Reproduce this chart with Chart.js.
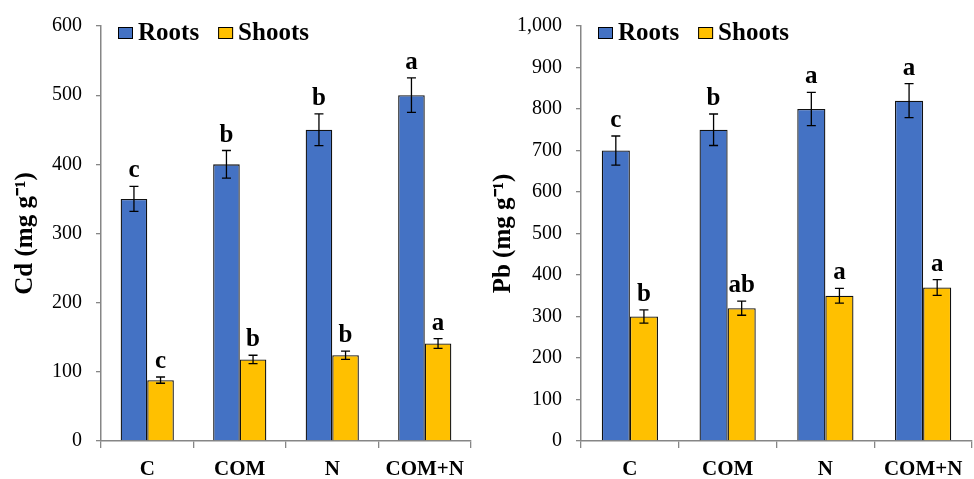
<!DOCTYPE html>
<html>
<head>
<meta charset="utf-8">
<script src="https://cdn.jsdelivr.net/npm/chart.js@4.4.0/dist/chart.umd.min.js"></script>
<style>
  html, body { margin: 0; padding: 0; background: #fff; }
  #wrap { position: relative; width: 974px; height: 479px; }
  .box { position: absolute; top: 0; width: 487px; height: 479px; }
</style>
</head>
<body>
<div id="wrap">
  <div class="box" style="left:0"><canvas id="cdChart"></canvas></div>
  <div class="box" style="left:487px"><canvas id="pbChart"></canvas></div>
</div>
<script>
const categories = ["C", "COM", "N", "COM+N"];

const cdRoots = [350, 400, 450, 500];
const cdRootsErr = [18, 20, 23, 25];
const cdShoots = [88, 118, 124, 141];
const cdShootsErr = [4.5, 6, 6, 7];
const cdRootsLetters = ["c", "b", "b", "a"];
const cdShootsLetters = ["c", "b", "b", "a"];

const pbRoots = [700, 750, 800, 820];
const pbRootsErr = [35, 38, 40, 41];
const pbShoots = [300, 320, 350, 370];
const pbShootsErr = [16, 17, 18, 19];
const pbRootsLetters = ["c", "b", "a", "a"];
const pbShootsLetters = ["b", "ab", "a", "a"];

const FONT = "'Liberation Serif', 'Times New Roman', serif";
const BLUE = "#4472C4";
const GOLD = "#FFC000";
const AXIS = "#868686";

// error bars + significance letters
const errorBarPlugin = {
    id: "errorBars",
    afterDatasetsDraw(chart) {
        const ctx = chart.ctx;
        const yScale = chart.scales.y;
        ctx.save();
        chart.data.datasets.forEach((ds, i) => {
            const meta = chart.getDatasetMeta(i);
            meta.data.forEach((bar, j) => {
                const v = ds.data[j];
                const e = ds.errors[j];
                const yTop = yScale.getPixelForValue(v + e);
                const yBot = yScale.getPixelForValue(v - e);
                const x = bar.x;
                ctx.strokeStyle = "#000";
                ctx.lineWidth = 1.3;
                ctx.beginPath();
                ctx.moveTo(x, yTop); ctx.lineTo(x, yBot);
                ctx.moveTo(x - 4.5, yTop); ctx.lineTo(x + 4.5, yTop);
                ctx.moveTo(x - 4.5, yBot); ctx.lineTo(x + 4.5, yBot);
                ctx.stroke();

                ctx.fillStyle = "#000";
                ctx.font = "bold 25px " + FONT;
                ctx.textAlign = "center";
                ctx.textBaseline = "alphabetic";
                ctx.fillText(ds.letters[j], x, yTop - 9);
            });
        });
        ctx.restore();
    }
};

// legend drawn inside the plot area, top left
const innerLegend = {
    id: "innerLegend",
    afterDraw(chart) {
        const ctx = chart.ctx;
        const area = chart.chartArea;
        let x = area.left + 17;
        const yc = area.top + 7;
        ctx.save();
        ctx.font = "bold 25px " + FONT;
        ctx.textBaseline = "middle";
        ctx.textAlign = "left";
        chart.data.datasets.forEach((ds) => {
            ctx.fillStyle = ds.backgroundColor;
            ctx.fillRect(x, yc - 6, 15, 12);
            ctx.strokeStyle = "#000";
            ctx.lineWidth = 1;
            ctx.strokeRect(x + 0.5, yc - 5.5, 14, 11);
            ctx.fillStyle = "#000";
            ctx.fillText(ds.label, x + 20, yc + 1);
            x += 20 + ctx.measureText(ds.label).width + 19;
        });
        ctx.restore();
    }
};

function makeChart(id, opts) {
    const ctx = document.getElementById(id).getContext("2d");
    return new Chart(ctx, {
        type: "bar",
        data: {
            labels: categories,
            datasets: [{
                label: "Roots",
                data: opts.roots,
                errors: opts.rootsErr,
                letters: opts.rootsLetters,
                backgroundColor: BLUE,
                borderColor: "#111",
                borderWidth: 1.3,
                categoryPercentage: 0.575,
                barPercentage: 1.0
            }, {
                label: "Shoots",
                data: opts.shoots,
                errors: opts.shootsErr,
                letters: opts.shootsLetters,
                backgroundColor: GOLD,
                borderColor: "#111",
                borderWidth: 1.3,
                categoryPercentage: 0.575,
                barPercentage: 1.0
            }]
        },
        options: {
            responsive: true,
            maintainAspectRatio: false,
            animation: false,
            layout: {
                padding: { left: 0, top: opts.top, right: opts.right, bottom: 0 }
            },
            plugins: {
                legend: { display: false },
                tooltip: { enabled: false }
            },
            scales: {
                x: {
                    grid: {
                        offset: true,
                        drawOnChartArea: false,
                        drawTicks: true,
                        tickLength: 7,
                        color: AXIS,
                        lineWidth: 1.3
                    },
                    border: { color: AXIS, width: 1.5 },
                    ticks: {
                        color: "#000",
                        padding: 9,
                        font: { family: FONT, size: 21, weight: "bold" }
                    },
                    afterFit: (scale) => { scale.height = 38; }
                },
                y: {
                    min: 0,
                    max: opts.max,
                    ticks: {
                        stepSize: 100,
                        color: "#000",
                        padding: 14,
                        font: { family: FONT, size: 20 }
                    },
                    grid: {
                        drawOnChartArea: false,
                        drawTicks: true,
                        tickLength: 5,
                        color: AXIS,
                        lineWidth: 1.3
                    },
                    border: { color: AXIS, width: 1.5 },
                    title: {
                        display: true,
                        text: opts.title,
                        color: "#000",
                        padding: { top: opts.titlePad, bottom: 0 },
                        font: { family: FONT, size: 25, weight: "bold" }
                    },
                    afterFit: (scale) => { scale.width = opts.axisLeft; }
                }
            }
        },
        plugins: [errorBarPlugin, innerLegend]
    });
}

makeChart("cdChart", {
    roots: cdRoots, rootsErr: cdRootsErr, rootsLetters: cdRootsLetters,
    shoots: cdShoots, shootsErr: cdShootsErr, shootsLetters: cdShootsLetters,
    max: 600, title: "Cd (mg g\u207B\u00B9)", titlePad: 11,
    axisLeft: 101, top: 22, right: 16
});

makeChart("pbChart", {
    roots: pbRoots, rootsErr: pbRootsErr, rootsLetters: pbRootsLetters,
    shoots: pbShoots, shootsErr: pbShootsErr, shootsLetters: pbShootsLetters,
    max: 1000, title: "Pb (mg g\u207B\u00B9)", titlePad: 2,
    axisLeft: 94, top: 18, right: 2
});
</script>
</body>
</html>
